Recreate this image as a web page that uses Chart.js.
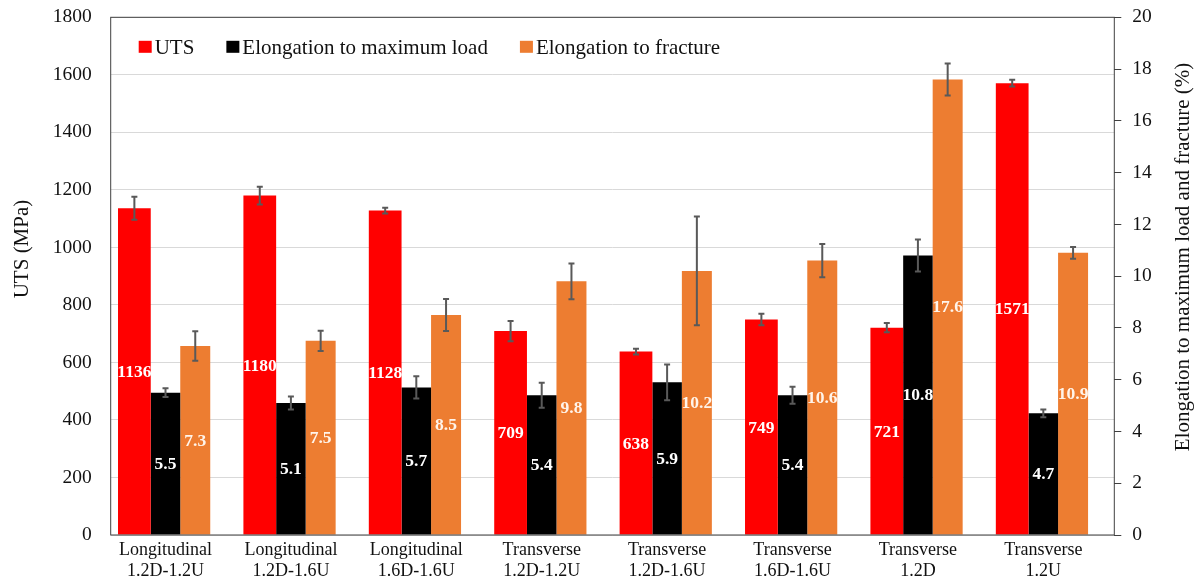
<!DOCTYPE html>
<html>
<head>
<meta charset="utf-8">
<title>UTS and elongation</title>
<script src="https://cdn.jsdelivr.net/npm/chart.js@4.4.1/dist/chart.umd.min.js"></script>
<style>
    html, body { margin: 0; padding: 0; background: #fff; }
    #wrap { position: relative; width: 1198px; height: 582px; }
</style>
</head>
<body>
<div id="wrap"><canvas id="chart-uts" width="1198" height="582"></canvas></div>
<script>
// --- DATA ---
const categories = [
    ['Longitudinal', '1.2D-1.2U'],
    ['Longitudinal', '1.2D-1.6U'],
    ['Longitudinal', '1.6D-1.6U'],
    ['Transverse', '1.2D-1.2U'],
    ['Transverse', '1.2D-1.6U'],
    ['Transverse', '1.6D-1.6U'],
    ['Transverse', '1.2D'],
    ['Transverse', '1.2U']
];
const uts = [1136, 1180, 1128, 709, 638, 749, 721, 1571];
const utsErr = [40, 31, 10, 35, 10, 20, 16, 12];
const elongMaxLoad = [5.5, 5.1, 5.7, 5.4, 5.9, 5.4, 10.8, 4.7];
const elongMaxLoadErr = [0.17, 0.25, 0.43, 0.48, 0.69, 0.33, 0.62, 0.15];
const elongFracture = [7.3, 7.5, 8.5, 9.8, 10.2, 10.6, 17.6, 10.9];
const elongFractureErr = [0.57, 0.39, 0.62, 0.69, 2.1, 0.64, 0.62, 0.23];

const utsTicks = { min: 0, max: 1800, step: 200 };
const elongTicks = { min: 0, max: 20, step: 2 };

const SERIF = "'Liberation Serif', 'Times New Roman', serif";
const AXIS_COLOR = '#404040';

function toPoints(values) {
    return values.map((v, i) => ({ x: i, y: v }));
}

// --- PLUGINS ---
const plotBorder = {
    id: 'plotBorder',
    afterDatasetsDraw(chart) {
        const { ctx, chartArea: a } = chart;
        ctx.save();
        ctx.strokeStyle = AXIS_COLOR;
        ctx.lineWidth = 1;
        ctx.strokeRect(a.left, a.top, a.right - a.left, a.bottom - a.top);
        ctx.restore();
    }
};

const errorBars = {
    id: 'errorBars',
    afterDatasetsDraw(chart) {
        const ctx = chart.ctx;
        ctx.save();
        ctx.strokeStyle = '#595959';
        ctx.lineWidth = 2;
        chart.data.datasets.forEach((ds, di) => {
            if (!ds.errors) return;
            const meta = chart.getDatasetMeta(di);
            const yScale = chart.scales[ds.yAxisID];
            meta.data.forEach((bar, i) => {
                const v = ds.data[i].y;
                const top = yScale.getPixelForValue(v + ds.errors[i]);
                const bottom = yScale.getPixelForValue(v - ds.errors[i]);
                ctx.beginPath();
                ctx.moveTo(bar.x, top);
                ctx.lineTo(bar.x, bottom);
                ctx.moveTo(bar.x - 3, top);
                ctx.lineTo(bar.x + 3, top);
                ctx.moveTo(bar.x - 3, bottom);
                ctx.lineTo(bar.x + 3, bottom);
                ctx.stroke();
            });
        });
        ctx.restore();
    }
};

const valueLabels = {
    id: 'valueLabels',
    afterDatasetsDraw(chart) {
        const ctx = chart.ctx;
        ctx.save();
        ctx.font = 'bold 17.5px ' + SERIF;
        ctx.textAlign = 'center';
        ctx.textBaseline = 'middle';
        chart.data.datasets.forEach((ds, di) => {
            const meta = chart.getDatasetMeta(di);
            ctx.fillStyle = ds.labelColor;
            meta.data.forEach((bar, i) => {
                const v = ds.data[i].y;
                ctx.fillText(v.toFixed(ds.decimals), bar.x, (bar.y + bar.base) / 2 + 1);
            });
        });
        ctx.restore();
    }
};

const axisTitles = {
    id: 'axisTitles',
    afterDraw(chart) {
        const ctx = chart.ctx;
        ctx.save();
        ctx.font = '21px ' + SERIF;
        ctx.fillStyle = '#111';
        ctx.textAlign = 'center';
        ctx.textBaseline = 'middle';
        [['UTS (MPa)', 22, 249], ['Elongation to maximum load and fracture (%)', 1183, 257]].forEach(([text, x, y]) => {
            ctx.save();
            ctx.translate(x, y);
            ctx.rotate(-Math.PI / 2);
            ctx.fillText(text, 0, 0);
            ctx.restore();
        });
        ctx.restore();
    }
};

// legend sits inside the plot, top-left
const innerLegend = {
    id: 'innerLegend',
    afterDraw(chart) {
        const ctx = chart.ctx;
        const box = 13;
        let x = chart.chartArea.left + 28;
        const y = chart.chartArea.top + 30;
        ctx.save();
        ctx.font = '21px ' + SERIF;
        ctx.textBaseline = 'middle';
        ctx.textAlign = 'left';
        chart.data.datasets.forEach(ds => {
            ctx.fillStyle = ds.backgroundColor;
            ctx.fillRect(x, y - box / 2, box, box - 1);
            x += box + 3;
            ctx.fillStyle = '#111';
            ctx.fillText(ds.label, x, y + 1);
            x += ctx.measureText(ds.label).width + 32;
        });
        ctx.restore();
    }
};

// y axes: fixed widths, and no extra top/bottom room for the end labels
function fixYAxis(width) {
    return s => {
        s.width = width;
        s.paddingTop = 0;
        s.paddingBottom = 0;
    };
}

// --- CHART ---
const ctx = document.getElementById('chart-uts').getContext('2d');
new Chart(ctx, {
    type: 'bar',
    data: {
        datasets: [
            {
                label: 'UTS',
                data: toPoints(uts),
                errors: utsErr,
                decimals: 0,
                labelColor: '#ffffff',
                backgroundColor: '#ff0000',
                yAxisID: 'y',
                categoryPercentage: 0.7446,
                barPercentage: 1.052
            },
            {
                label: 'Elongation to maximum load',
                data: toPoints(elongMaxLoad),
                errors: elongMaxLoadErr,
                decimals: 1,
                labelColor: '#ffffff',
                backgroundColor: '#000000',
                yAxisID: 'y1',
                categoryPercentage: 0.72,
                barPercentage: 0.98
            },
            {
                label: 'Elongation to fracture',
                data: toPoints(elongFracture),
                errors: elongFractureErr,
                decimals: 1,
                labelColor: '#fff4ea',
                backgroundColor: '#ed7d31',
                yAxisID: 'y1',
                categoryPercentage: 0.7117,
                barPercentage: 1.008
            }
        ]
    },
    options: {
        responsive: false,
        animation: false,
        devicePixelRatio: 1,
        layout: { padding: { top: 17.3, left: 0, right: 0, bottom: 0 } },
        plugins: {
            legend: { display: false },
            tooltip: { enabled: false }
        },
        scales: {
            x: {
                type: 'linear',
                min: -0.437,
                max: 7.566,
                offset: false,
                grid: { display: false, drawTicks: false },
                border: { display: false },
                ticks: {
                    stepSize: 1,
                    includeBounds: false,
                    autoSkip: false,
                    maxRotation: 0,
                    padding: 5,
                    color: '#111',
                    font: { family: SERIF, size: 18, lineHeight: 1.17 },
                    callback: v => categories[v] || ''
                },
                afterFit: s => { s.height = 47; }
            },
            y: {
                position: 'left',
                min: utsTicks.min,
                max: utsTicks.max,
                grid: { color: '#d9d9d9', drawTicks: false },
                border: { display: false },
                ticks: {
                    stepSize: utsTicks.step,
                    padding: 19,
                    color: '#111',
                    font: { family: SERIF, size: 19.5 },
                    callback: v => String(v)
                },
                afterFit: fixYAxis(110.7)
            },
            y1: {
                position: 'right',
                min: elongTicks.min,
                max: elongTicks.max,
                grid: { drawOnChartArea: false, drawTicks: true, tickLength: 7, color: AXIS_COLOR },
                border: { display: false },
                ticks: {
                    stepSize: elongTicks.step,
                    padding: 11,
                    color: '#111',
                    font: { family: SERIF, size: 19.5 },
                    callback: v => String(v)
                },
                afterFit: fixYAxis(1198 - 1114.3)
            }
        }
    },
    plugins: [plotBorder, errorBars, valueLabels, axisTitles, innerLegend]
});
</script>
</body>
</html>
